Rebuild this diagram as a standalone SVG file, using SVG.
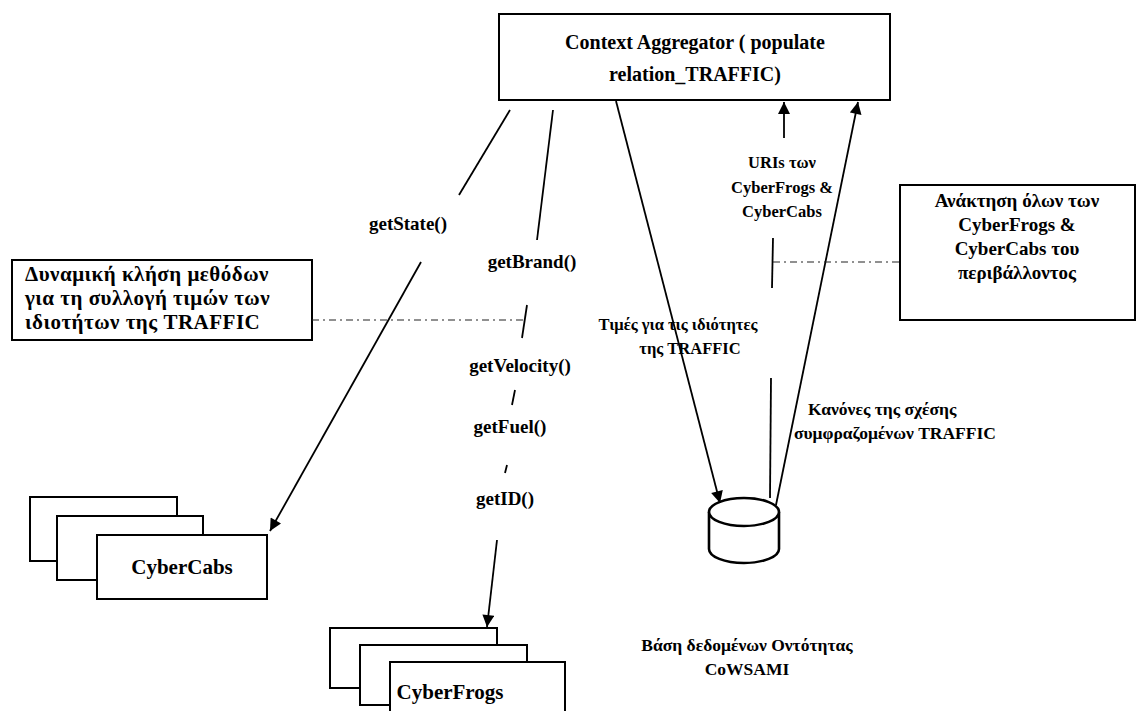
<svg xmlns="http://www.w3.org/2000/svg" width="1147" height="711" viewBox="0 0 1147 711">
<style>
.box{fill:#fff;stroke:#000;stroke-width:2}
.t{font-family:'Liberation Serif','DejaVu Serif',serif;font-size:19px;fill:#000;font-weight:bold}
.c{text-anchor:middle}
.s16{font-size:16.5px}
.s17{font-size:17.5px}
.s20{font-size:20px}
.s21{font-size:21px}
.ln{stroke:#000;stroke-width:1.8;fill:none}
.db{stroke:#000;stroke-width:2.6;fill:#fff}
.dd{stroke:#222;stroke-width:1.2;fill:none;stroke-dasharray:7 4 2 4}
</style>
<defs>
<marker id="ahb" viewBox="0 0 10 10" refX="10" refY="5" markerWidth="14" markerHeight="12" orient="auto" markerUnits="userSpaceOnUse">
<path d="M0,0 L10,5 L0,10 z" fill="#000"/>
</marker>
</defs>

<g id="aggregator">
<rect class="box" x="499" y="14" width="391" height="86"/>
<text class="t c s20" x="695" y="49">Context Aggregator ( populate</text>
<text class="t c s20" x="695" y="81">relation_TRAFFIC)</text>
</g>

<g id="note-left">
<rect class="box" x="12" y="260" width="300" height="80"/>
<text class="t s21" x="25" y="281" letter-spacing="0.5">Δυναμική κλήση μεθόδων</text>
<text class="t s21" x="25" y="305" letter-spacing="0.5">για τη συλλογή τιμών των</text>
<text class="t s21" x="25" y="329" letter-spacing="0.5">ιδιοτήτων της TRAFFIC</text>
</g>

<g id="note-right">
<rect class="box" x="900" y="185" width="235" height="135"/>
<text class="t c" x="1017" y="207">Ανάκτηση όλων των</text>
<text class="t c" x="1017" y="231">CyberFrogs &amp;</text>
<text class="t c" x="1017" y="255">CyberCabs του</text>
<text class="t c" x="1017" y="279">περιβάλλοντος</text>
</g>

<g id="cybercabs">
<rect class="box" x="30" y="497" width="147" height="64"/>
<rect class="box" x="57" y="516" width="146" height="64"/>
<rect class="box" x="97" y="535" width="170" height="64"/>
<text class="t c s21" x="182" y="574">CyberCabs</text>
</g>

<g id="cyberfrogs">
<rect class="box" x="330" y="628" width="167" height="60"/>
<rect class="box" x="360" y="645" width="167" height="60"/>
<rect class="box" x="390" y="662" width="175" height="60"/>
<text class="t c s21" x="450" y="699">CyberFrogs</text>
</g>

<g id="database">
<path class="db" d="M709,512 L709,549 A35,14 0 0 0 779,549 L779,512"/>
<ellipse class="db" cx="744" cy="512" rx="35" ry="14"/>
<text class="t c s17" x="747" y="651">Βάση δεδομένων Οντότητας</text>
<text class="t c s17" x="747" y="675">CoWSAMI</text>
</g>

<g id="connectors">
<line class="ln" x1="510" y1="110" x2="459" y2="195"/>
<line class="ln" x1="421" y1="262" x2="270" y2="531" marker-end="url(#ahb)"/>
<line class="ln" x1="553" y1="110" x2="537" y2="240"/>
<line class="ln" x1="527" y1="305" x2="522" y2="338"/>
<line class="ln" x1="515" y1="390" x2="512" y2="405"/>
<line class="ln" x1="507" y1="465" x2="505" y2="473"/>
<line class="ln" x1="497" y1="540" x2="487" y2="627" marker-end="url(#ahb)"/>
<line class="ln" x1="616" y1="101" x2="720" y2="503" marker-end="url(#ahb)"/>
<line class="ln" x1="776" y1="505" x2="858" y2="102" marker-end="url(#ahb)"/>
<line class="ln" x1="784" y1="138" x2="784" y2="102" marker-end="url(#ahb)"/>
<line class="ln" x1="773" y1="238" x2="772" y2="288"/>
<line class="ln" x1="771" y1="378" x2="770" y2="498"/>
<line class="dd" x1="312" y1="320" x2="523" y2="320"/>
<line class="dd" x1="773" y1="262" x2="900" y2="262"/>
</g>

<g id="labels">
<text class="t c" x="408" y="230">getState()</text>
<text class="t c" x="532" y="268">getBrand()</text>
<text class="t c" x="520" y="372">getVelocity()</text>
<text class="t c" x="510" y="433">getFuel()</text>
<text class="t c" x="505" y="505">getID()</text>
<text class="t c s16" x="782" y="168">URIs των</text>
<text class="t c s16" x="782" y="193">CyberFrogs &amp;</text>
<text class="t c s16" x="782" y="217">CyberCabs</text>
<text class="t c s16" x="678" y="330">Τιμές για τις ιδιότητες</text>
<text class="t c s16" x="690" y="354">της TRAFFIC</text>
<text class="t s17" x="808" y="415">Κανόνες της σχέσης</text>
<text class="t s17" x="794" y="439">συμφραζομένων TRAFFIC</text>
</g>
</svg>
